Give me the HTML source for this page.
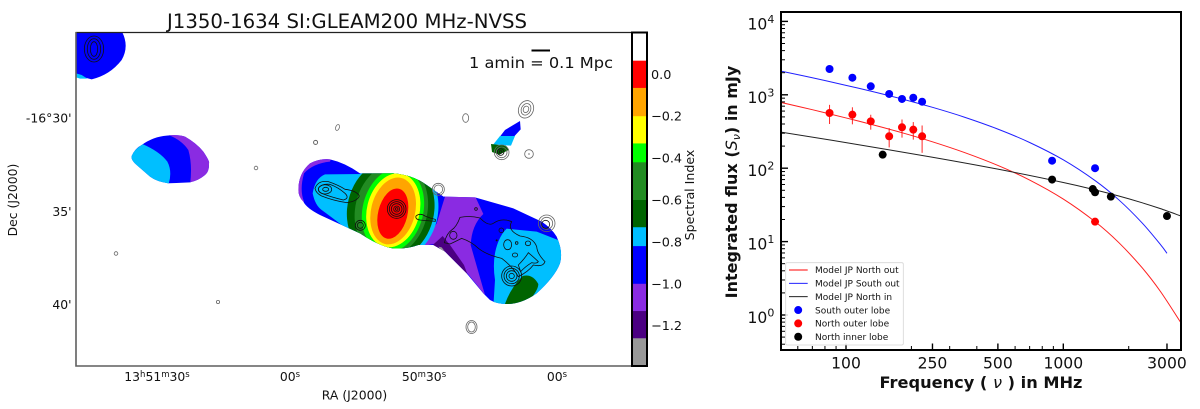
<!DOCTYPE html>
<html>
<head>
<meta charset="utf-8">
<title>J1350-1634 spectral index map and integrated flux spectrum</title>
<style>
html,body{margin:0;padding:0;background:#fff;width:1200px;height:409px;overflow:hidden}
svg{display:block;filter:blur(0.3px)}
text{font-family:"DejaVu Sans","Liberation Sans",sans-serif;fill:#111}
.ct{fill:none;stroke:#111;stroke-width:2.4}
.cg{fill:none;stroke:#666;stroke-width:2.4}
</style>
</head>
<body>
<svg id="root" width="1200" height="409" viewBox="0 0 1200 409" xmlns="http://www.w3.org/2000/svg">
<defs>
  <clipPath id="clipBody"><path d="M55,180 Q55,130 90,100 Q120,85 150,88 Q195,98 240,130 L340,130 Q400,135 440,165 L490,200 L585,202 L700,235 L785,275 Q815,295 830,320 Q850,365 840,400 Q825,440 770,490 Q725,522 680,522 Q650,522 630,510 L610,490 L560,430 L495,365 L460,345 L415,345 Q380,358 340,355 Q300,350 240,310 L185,285 L120,255 Q80,235 70,215 Q55,200 55,180 Z"/></clipPath>
  <clipPath id="clipLobe"><path d="M215,408 Q225,385 245,375 Q280,350 320,347 Q355,343 375,350 Q410,370 430,395 Q450,425 447,430 Q448,455 435,465 Q415,482 390,487 L325,490 Q290,485 270,470 L230,435 Q212,420 215,408 Z"/></clipPath>
  <clipPath id="clipMap"><rect x="76" y="32" width="556" height="334"/></clipPath>
</defs>

<text x="347" y="28" text-anchor="middle" font-size="19.5" textLength="360" lengthAdjust="spacingAndGlyphs">J1350-1634 SI:GLEAM200 MHz-NVSS</text>

<g clip-path="url(#clipMap)">
  <g transform="translate(60,20) scale(0.33333)">
    <path fill="#0000ff" d="M47,37 L187,37 Q208,80 185,120 Q150,165 95,178 Q65,172 47,160 Z"/>
    <path fill="#00bfff" d="M47,160 L65,165 L82,176 L60,176 L47,172 Z"/>
    <g fill="none" stroke="#111" stroke-width="2.4">
      <ellipse cx="102" cy="87" rx="29" ry="39"/><ellipse cx="102" cy="87" rx="20" ry="31"/><ellipse cx="102" cy="87" rx="11" ry="22"/>
    </g>
  </g>

  <g transform="translate(60,20) scale(0.33333)">
    <g clip-path="url(#clipLobe)">
      <rect x="200" y="330" width="260" height="170" fill="#0000ff"/>
      <path fill="#8a2be2" d="M325,340 L360,340 L460,400 L460,480 L390,495 Q398,435 385,390 Q365,360 325,345 Z"/>
      <path fill="#00bfff" d="M205,408 L247,372 Q300,395 322,425 Q338,455 325,495 L260,480 L210,440 Z"/>
    </g>
  </g>

  <g transform="translate(280,130) scale(0.33333)">
    <g clip-path="url(#clipBody)">
      <rect x="40" y="70" width="820" height="470" fill="#0000ff"/>
      <path fill="#8a2be2" d="M155,80 L85,90 L40,170 L60,225 L72,215 Q58,180 72,130 Q100,100 150,95 Z"/>
      <path fill="#00bfff" d="M250,132 L135,133 Q105,145 98,190 Q105,225 125,240 Q150,258 185,285 L250,320 L300,250 Z"/>
      <path fill="#8a2be2" d="M470,190 L585,198 L610,252 Q575,285 572,345 L615,495 L550,415 L500,350 L470,340 L420,350 Z"/>
      <path fill="#4b0082" d="M488,318 L455,348 L500,375 L565,440 L552,405 L510,345 Z"/>
      <path fill="#999999" d="M475,350 L485,352 L510,385 L500,382 Z"/>
      <path fill="#00bfff" d="M680,296 L770,305 L860,340 L860,420 L780,530 L640,530 L645,450 Q635,385 655,335 Q665,310 680,296 Z"/>
      <path fill="#006400" d="M672,530 Q690,475 728,438 Q757,430 775,462 Q775,485 730,530 Z"/>
      <path fill="#0000ff" d="M440,150 L495,200 L470,280 L425,350 L380,350 L380,150 Z"/>
      <g transform="rotate(14 336 240)">
        <ellipse cx="336" cy="240" rx="138" ry="160" fill="#00bfff" />
        <ellipse cx="332" cy="240" rx="130" ry="155" fill="#006400"/>
        <ellipse cx="334" cy="240" rx="108" ry="142" fill="#228b22"/>
        <ellipse cx="339" cy="240" rx="91" ry="128" fill="#00ff00"/>
        <ellipse cx="340" cy="240" rx="79" ry="113" fill="#ffff00"/>
        <ellipse cx="340" cy="242" rx="66" ry="102" fill="#ffa500"/>
        <ellipse cx="341" cy="250" rx="44" ry="77" fill="#ff0000"/>
      </g>
    </g>
    <g>
      <path class="ct" d="M105,175 Q115,150 145,155 Q175,165 195,178 Q230,182 238,198 Q232,214 200,218 Q160,212 125,198 Q108,190 105,175 Z"/>
      <path class="ct" d="M115,175 Q125,160 150,163 Q175,172 195,190 Q210,205 190,210 Q150,200 125,190 Q115,185 115,175 Z"/>
      <ellipse class="ct" cx="135" cy="178" rx="20" ry="14"/>
      <ellipse class="ct" cx="137" cy="178" rx="9" ry="6"/>
      <circle class="ct" cx="350" cy="237" r="28"/><circle class="ct" cx="350" cy="237" r="22"/><circle class="ct" cx="350" cy="237" r="16"/><circle class="ct" cx="350" cy="237" r="9"/><circle class="ct" cx="350" cy="237" r="4"/>
      <circle class="ct" cx="241" cy="286" r="15"/><circle class="ct" cx="241" cy="286" r="9"/>
      <circle class="cg" cx="475" cy="178" r="18"/><circle class="cg" cx="475" cy="178" r="13"/>
      <path class="ct" d="M408,258 Q420,248 435,258 Q450,265 466,268 L466,274 Q440,272 420,270 Q405,268 408,258 Z"/>
      <path class="ct" d="M493,338 Q500,310 515,300 Q530,290 540,262 Q570,256 600,264 Q625,290 640,280 Q665,262 695,275 Q680,300 720,318 Q760,322 770,350 Q772,372 795,395 Q790,412 760,405 Q745,425 715,440 Q700,412 665,385 Q620,375 595,355 Q575,335 545,325 Q525,335 510,342 Z"/>
      <path class="ct" d="M715,405 Q735,385 745,368 Q765,385 775,395 Q770,402 755,398 Q735,410 722,425 Z"/>
      <ellipse class="ct" cx="520" cy="316" rx="11" ry="12"/>
      <circle class="ct" cx="588" cy="237" r="4"/>
      <circle class="ct" cx="664" cy="301" r="7"/>
      <ellipse class="ct" cx="683" cy="344" rx="12" ry="15"/>
      <circle class="ct" cx="710" cy="339" r="4"/>
      <ellipse class="ct" cx="744" cy="340" rx="8" ry="7"/>
      <ellipse class="ct" cx="705" cy="375" rx="8" ry="6"/>
      <circle cx="650" cy="331" r="3" fill="#111"/>
      <circle class="ct" cx="695" cy="438" r="30"/><circle class="ct" cx="695" cy="438" r="23"/><circle class="ct" cx="695" cy="438" r="16"/><circle class="ct" cx="695" cy="438" r="8"/>
      <circle class="cg" cx="800" cy="280" r="25"/><circle class="cg" cx="800" cy="280" r="18"/><circle class="ct" cx="797" cy="283" r="12"/>
      <circle class="cg" cx="107" cy="37" r="6"/>
    </g>
  </g>

  <g transform="translate(440,30) scale(0.33333)">
    <path fill="#0000ff" d="M240,273 L242,298 L222,320 L178,322 L195,300 Z"/>
    <path fill="#00bfff" d="M180,318 L225,318 L213,347 L160,343 Z"/>
    <path fill="#006400" d="M153,342 L198,347 L206,360 L178,374 L156,366 Z"/>
    <circle class="cg" cx="185" cy="367" r="22"/><circle class="cg" cx="185" cy="367" r="16"/><circle class="ct" cx="182" cy="366" r="10"/><circle class="ct" cx="182" cy="366" r="4"/>
    <ellipse class="cg" cx="258" cy="238" rx="22" ry="27" transform="rotate(25 258 238)"/><ellipse class="cg" cx="258" cy="238" rx="14" ry="18" transform="rotate(25 258 238)"/><ellipse class="cg" cx="258" cy="238" rx="8" ry="10" transform="rotate(25 258 238)"/>
    <ellipse class="cg" cx="77" cy="264" rx="9" ry="13"/>
    <circle class="cg" cx="267" cy="372" r="13"/><circle cx="267" cy="372" r="2" fill="#333"/>
  </g>

  <g fill="none" stroke="#666" stroke-width="0.8">
    <ellipse cx="337.5" cy="127.5" rx="1.8" ry="3" transform="rotate(20 337.5 127.5)"/>
    <circle cx="315.5" cy="142.5" r="2"/>
    <circle cx="256" cy="168" r="1.8"/>
    <circle cx="116" cy="253.5" r="1.8"/>
    <circle cx="218" cy="302" r="1.6"/>
    <ellipse cx="471.5" cy="327" rx="5.5" ry="6.5"/><ellipse cx="471.5" cy="327" rx="3.8" ry="5"/>
  </g>
</g>

<path d="M75.5,32.5 H632" stroke="#222" stroke-width="1.2" fill="none"/>
<path d="M76,32 V366 H632" stroke="#5f5f5f" stroke-width="1.6" fill="none"/>

<line x1="531.5" y1="50.5" x2="550" y2="50.5" stroke="#000" stroke-width="2"/>
<text x="469" y="68" font-size="15.5" textLength="144" lengthAdjust="spacingAndGlyphs">1 amin = 0.1 Mpc</text>

<g font-size="12.4" text-anchor="end">
  <text x="71.5" y="122.5">-16°30'</text>
  <text x="71.5" y="216">35'</text>
  <text x="71.5" y="309">40'</text>
</g>
<text font-size="12.4" text-anchor="middle" transform="translate(17,200) rotate(-90)">Dec (J2000)</text>
<g font-size="12.4" text-anchor="middle">
  <text x="157" y="381">13<tspan font-size="8.5" dy="-4">h</tspan><tspan dy="4">51</tspan><tspan font-size="8.5" dy="-4">m</tspan><tspan dy="4">30</tspan><tspan font-size="8.5" dy="-4">s</tspan></text>
  <text x="290" y="381">00<tspan font-size="8.5" dy="-4">s</tspan></text>
  <text x="424" y="381">50<tspan font-size="8.5" dy="-4">m</tspan><tspan dy="4">30</tspan><tspan font-size="8.5" dy="-4">s</tspan></text>
  <text x="557" y="381">00<tspan font-size="8.5" dy="-4">s</tspan></text>
</g>
<text x="354.5" y="399.5" font-size="12.4" text-anchor="middle">RA (J2000)</text>

<g id="colorbar"></g>
<text font-size="12.6" text-anchor="middle" transform="translate(694,195) rotate(-90)">Spectral Index</text>

<g id="spectrum"></g>
</svg>

<script>
// Colorbar data
const cbLevels = [0.2, 0.065, -0.065, -0.2, -0.33, -0.42, -0.6, -0.73, -0.82, -1.0, -1.13, -1.26, -1.39];
const cbColors = ["#ffffff", "#ff0000", "#ffa500", "#ffff00", "#00ff00", "#228b22", "#006400", "#00bfff", "#0000ff", "#8a2be2", "#4b0082", "#999999"];
const cbTicks = [0.0, -0.2, -0.4, -0.6, -0.8, -1.0, -1.2];
const cbTickLabels = ["0.0", "\u22120.2", "\u22120.4", "\u22120.6", "\u22120.8", "\u22121.0", "\u22121.2"];

// Spectrum data: measured points (MHz, mJy)
const southFreq = [84, 107, 130, 158, 181, 204, 224, 888, 1400];
const southFlux = [2246, 1710, 1306, 1026, 877, 913, 805, 126.5, 100];
const southErr = [120, 90, 70, 60, 100, 60, 90, 5, 5];
const northFreq = [84, 107, 130, 158, 181, 204, 224, 1400];
const northFlux = [565, 536, 435, 272, 361, 335, 272, 18.7];
const northErr = [165, 140, 100, 80, 100, 90, 110, 2];
const innerFreq = [147.5, 888, 1367, 1400, 1655, 3000];
const innerFlux = [153, 70, 52, 47, 41, 22.3];

// Model curves
const modelNorthFreq = [50, 70, 100, 130, 180, 250, 350, 500, 700, 1000, 1400, 1800, 2300, 2800, 3480];
const modelNorthFlux = [789, 627, 484, 397, 306, 229, 164, 109, 69, 38, 18.7, 9.7, 4.44, 2.09, 0.78];
const modelSouthFreq = [50, 70, 100, 130, 180, 250, 350, 500, 700, 1000, 1400, 1800, 2300, 2800, 3000];
const modelSouthFlux = [2109, 1706, 1346, 1121, 881, 675, 497, 341, 224, 130, 67.8, 37.1, 18.1, 9.12, 6.93];
const modelInnerFreq = [50, 100, 250, 500, 1000, 1400, 1800, 2300, 2800, 3480];
const modelInnerFlux = [311, 223, 141, 97, 63.8, 50.6, 41.8, 33.9, 28.1, 22.3];

// Axis ticks
const xMajorTicks = [100, 250, 500, 1000, 3000];
const xMinorTicks = [60, 70, 80, 90, 200, 300, 400, 600, 700, 800, 900, 2000];
const yDecades = [0, 1, 2, 3, 4];
const yMinorMantissa = [2, 3, 4, 5, 6, 7, 8, 9];
const legendLabels = ["Model JP North out", "Model JP South out", "Model JP North in", "South outer lobe", "North outer lobe", "North inner lobe"];
const legendColors = ["#ff0000", "#0000ff", "#000000", "#0000ff", "#ff0000", "#000000"];

const NS = "http://www.w3.org/2000/svg";
function mk(tag, parent, attrs) {
  const el = document.createElementNS(NS, tag);
  for (const k in attrs) el.setAttribute(k, attrs[k]);
  parent.appendChild(el);
  return el;
}

// Axis functions
const xScale = f => 846 + 217.3 * Math.log10(f / 100);
const yScale = v => 315 - 73.4 * Math.log10(v);
const cbScale = v => 74.3 - 209.5 * v;

// Colorbar
const cb = document.getElementById("colorbar");
cbColors.forEach((c, i) => {
  const y0 = cbScale(cbLevels[i]);
  const y1 = cbScale(cbLevels[i + 1]);
  const r = mk("rect", cb, {x: 632, y: y0, width: 15, height: y1 - y0 + 0.3, fill: c});
  
  
});
const cbBorder = mk("rect", cb, {x: 632, y: 32.5, width: 15, height: 333.5, fill: "none", stroke: "#000", "stroke-width": 2});


cbTicks.forEach((t, i) => {
  const label = mk("text", cb, {x: 651, y: cbScale(t) + 4.5, "font-size": 12.8});
  label.textContent = cbTickLabels[i];
  
  
});

// Spectrum chart
const sp = document.getElementById("spectrum");
const L = 781, R = 1181, T = 12, B = 350;

const clip = mk("clipPath", sp, {id: "clipSpectrum"});
mk("rect", clip, {x: L, y: T, width: R - L, height: B - T});

function smoothPath(fs, vs) {
  const p = fs.map((f, i) => [xScale(f), yScale(vs[i])]);
  let d = "M" + p[0][0].toFixed(2) + "," + p[0][1].toFixed(2);
  for (let i = 0; i < p.length - 1; i++) {
    const a = p[Math.max(i - 1, 0)], b = p[i], c = p[i + 1], e = p[Math.min(i + 2, p.length - 1)];
    const c1x = b[0] + (c[0] - a[0]) / 6, c1y = b[1] + (c[1] - a[1]) / 6;
    const c2x = c[0] - (e[0] - b[0]) / 6, c2y = c[1] - (e[1] - b[1]) / 6;
    d += " C" + c1x.toFixed(2) + "," + c1y.toFixed(2) + " " + c2x.toFixed(2) + "," + c2y.toFixed(2) + " " + c[0].toFixed(2) + "," + c[1].toFixed(2);
  }
  return d;
}

const curveGroup = mk("g", sp, {"clip-path": "url(#clipSpectrum)"});


const curveNorth = mk("path", curveGroup, {d: smoothPath(modelNorthFreq, modelNorthFlux), fill: "none", stroke: "#ff2020", "stroke-width": 1});


const curveSouth = mk("path", curveGroup, {d: smoothPath(modelSouthFreq, modelSouthFlux), fill: "none", stroke: "#2020ff", "stroke-width": 1});


const curveInner = mk("path", curveGroup, {d: smoothPath(modelInnerFreq, modelInnerFlux), fill: "none", stroke: "#222", "stroke-width": 1});



function drawPoints(fs, vs, es, color, seriesName) {
  const g = mk("g", sp, {});
  
  
  fs.forEach((f, i) => {
    if (es) {
      const bar = mk("line", g, {x1: xScale(f), x2: xScale(f), y1: yScale(vs[i] + es[i]), y2: yScale(Math.max(vs[i] - es[i], 0.01)), stroke: color, "stroke-width": 1, opacity: 0.85});
      
      
    }
    const dot = mk("circle", g, {cx: xScale(f), cy: yScale(vs[i]), r: 4, fill: color});
    
    
  });
}
drawPoints(southFreq, southFlux, southErr, "#0000ff", "south-outer-lobe-points");
drawPoints(northFreq, northFlux, northErr, "#ff0000", "north-outer-lobe-points");
drawPoints(innerFreq, innerFlux, null, "#000000", "north-inner-lobe-points");

// X ticks
xMajorTicks.forEach(f => {
  const t = mk("line", sp, {x1: xScale(f), x2: xScale(f), y1: B, y2: B - 6.5, stroke: "#000", "stroke-width": 1.4});
  
  
  const lab = mk("text", sp, {x: Math.min(xScale(f), 1167), y: 368.5, "font-size": 15.6, "text-anchor": "middle"});
  lab.textContent = String(f);
  
  
});
xMinorTicks.forEach(f => {
  const t = mk("line", sp, {x1: xScale(f), x2: xScale(f), y1: B, y2: B - 4, stroke: "#000", "stroke-width": 1});
  
  
});

// Y ticks
yDecades.forEach(e => {
  const v = Math.pow(10, e);
  const t = mk("line", sp, {x1: L, x2: L + 7, y1: yScale(v), y2: yScale(v), stroke: "#000", "stroke-width": 1.4});
  
  
  const lab = mk("text", sp, {x: 747.5, y: yScale(v) + 8, "font-size": 15.6});
  lab.textContent = "10";
  
  
  const sup = mk("tspan", lab, {"font-size": 11, dy: -6.5});
  sup.textContent = String(e);
});
[-1].concat(yDecades).forEach(e => {
  yMinorMantissa.forEach(m => {
    const v = m * Math.pow(10, e);
    const y = yScale(v);
    if (y > B || y < T) return;
    const t = mk("line", sp, {x1: L, x2: L + 4, y1: y, y2: y, stroke: "#000", "stroke-width": 1});
    
    
  });
});

// Spines
const frame = mk("rect", sp, {x: L, y: T, width: R - L, height: B - T, fill: "none", stroke: "#000", "stroke-width": 2});



// Axis titles
const xTitle = mk("text", sp, {x: 981, y: 388, "font-size": 16.2, "font-weight": "bold", "text-anchor": "middle"});


const xPart1 = mk("tspan", xTitle, {});
xPart1.textContent = "Frequency ( ";
const xPart2 = mk("tspan", xTitle, {"font-style": "italic", "font-weight": "normal"});
xPart2.textContent = "\u03BD";
const xPart3 = mk("tspan", xTitle, {});
xPart3.textContent = " ) in MHz";

const yTitle = mk("text", sp, {"font-size": 16, "font-weight": "bold", "text-anchor": "middle", transform: "translate(737,182) rotate(-90)"});


const yPart1 = mk("tspan", yTitle, {});
yPart1.textContent = "Integrated flux (";
const yPart2 = mk("tspan", yTitle, {"font-style": "italic", "font-weight": "normal"});
yPart2.textContent = "S";
const yPart3 = mk("tspan", yTitle, {"font-size": 11, "font-style": "italic", "font-weight": "normal", dy: 3});
yPart3.textContent = "\u03BD";
const yPart4 = mk("tspan", yTitle, {dy: -3});
yPart4.textContent = ") in mJy";

// Legend
const lg = mk("g", sp, {});


const lgBox = mk("rect", lg, {x: 785.7, y: 262.7, width: 117.6, height: 82.3, rx: 1.5, fill: "#fff", "fill-opacity": 0.85, stroke: "#d5d5d5", "stroke-width": 0.8});


legendLabels.forEach((text, i) => {
  const y = 270 + i * 13.35;
  if (i < 3) {
    const h = mk("line", lg, {x1: 789, x2: 807.7, y1: y, y2: y, stroke: legendColors[i], "stroke-width": 0.9});
    
    
  } else {
    const h = mk("circle", lg, {cx: 798.2, cy: y, r: 4, fill: legendColors[i]});
    
    
  }
  const t = mk("text", lg, {x: 815, y: y + 3.2, "font-size": 9});
  t.textContent = text;
  
  
});
</script>
</body>
</html>
